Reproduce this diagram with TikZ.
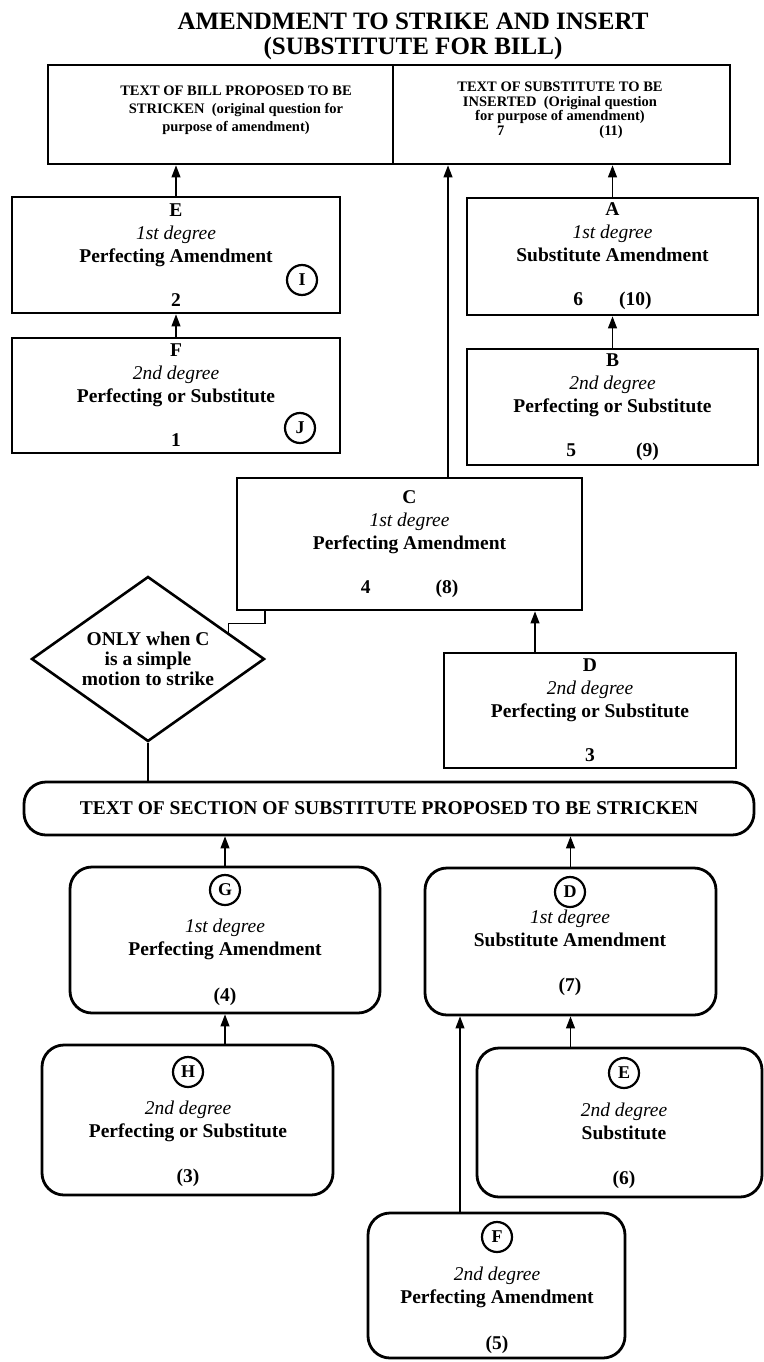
\documentclass[tikz,border=0pt]{standalone}
\usepackage{fontspec}
\setmainfont{Liberation Serif}
\usetikzlibrary{arrows.meta, shapes.geometric, calc}

\newcommand{\dgr}[1]{\textmd{\textit{#1}}}

\begin{document}
\begin{tikzpicture}[x=1pt, y=-1pt,
  box/.style 2 args={draw, line width=2.8pt, minimum width=#1, minimum height=#2,
    inner sep=0pt, align=center, font=\fontsize{19.5}{23}\selectfont\bfseries},
  rbox/.style 2 args={box={#1}{#2}, rounded corners=22pt},
  tag/.style={draw, circle, line width=2.2pt, minimum size=30pt, inner sep=0pt,
    font=\fontsize{18}{18}\selectfont\bfseries},
  txt/.style={align=center, inner sep=0pt, font=\fontsize{19.5}{23}\selectfont\bfseries},
  arr/.style={line width=1.1pt, -{Triangle[length=12pt,width=9pt]}},
  ln/.style={line width=1.1pt}]
  \useasboundingbox (0,0) rectangle (763,1362);

  % title
  \node[txt, font=\fontsize{25}{25}\selectfont\bfseries] (title) at (413,36)
    {AMENDMENT TO STRIKE AND INSERT\\(SUBSTITUTE FOR BILL)};

  % questions on top
  \node[box={345pt}{99pt}] (bill) at (220.5,114.5) {};
  \node[txt, font=\fontsize{14.5}{18}\selectfont\bfseries] (billtxt) at (236,110)
    {TEXT OF BILL PROPOSED TO BE\\ STRICKEN\ \ (original question for\\ purpose of amendment)};
  \node[box={337pt}{99pt}] (sub) at (561.5,114.5) {};
  \node[txt, font=\fontsize{14.5}{14.5}\selectfont\bfseries] (subtxt) at (560,110)
    {TEXT OF SUBSTITUTE TO BE\\ INSERTED\ \ (Original question\\ for purpose of amendment)\\ 7\hspace{95pt}(11)};

  % amendments to the bill and to the substitute
  \node[box={328pt}{116pt}] (E) at (176,255)
    {E\\ \dgr{1st degree}\\ Perfecting Amendment\\[21pt] 2};
  \node[box={328pt}{115pt}] (F) at (176,395.5)
    {F\\ \dgr{2nd degree}\\ Perfecting or Substitute\\[21pt] 1};
  \node[box={291pt}{117pt}] (A) at (612.5,256.5)
    {A\\ \dgr{1st degree}\\ Substitute Amendment\\[21pt] 6\hspace{36pt}(10)};
  \node[box={291pt}{116pt}] (B) at (612.5,407)
    {B\\ \dgr{2nd degree}\\ Perfecting or Substitute\\[21pt] 5\hspace{60pt}(9)};
  \node[box={345pt}{132pt}] (C) at (409.5,544)
    {C\\ \dgr{1st degree}\\ Perfecting Amendment\\[21pt] 4\hspace{65pt}(8)};
  \node[box={292pt}{115pt}] (D) at (590,710.5)
    {D\\ \dgr{2nd degree}\\ Perfecting or Substitute\\[21pt] 3};

  \node[draw, diamond, shape aspect=1.41, line width=2.6pt, minimum width=233pt,
    minimum height=165pt, inner sep=0pt, align=center,
    font=\fontsize{19.5}{20}\selectfont\bfseries] (dia) at (148,659)
    {ONLY when C\\ is a simple\\ motion to strike};

  % section of the substitute
  \node[rbox={730pt}{53pt}, rounded corners=22pt] (sect) at (389,808.5)
    {TEXT OF SECTION OF SUBSTITUTE PROPOSED TO BE STRICKEN};
  \node[rbox={310pt}{146pt}] (G) at (225,940) {};
  \node[txt] (txG) at (225,962.5) {\dgr{1st degree}\\ Perfecting Amendment\\[23pt] (4)};
  \node[rbox={291pt}{147pt}] (D2) at (570.5,941.5) {};
  \node[txt] (txD2) at (570,953) {\dgr{1st degree}\\ Substitute Amendment\\[22pt] (7)};
  \node[rbox={291pt}{150pt}] (H) at (187.5,1120) {};
  \node[txt] (txH) at (188,1143.5) {\dgr{2nd degree}\\ Perfecting or Substitute\\[22pt] (3)};
  \node[rbox={285pt}{149pt}] (E2) at (619.5,1122.5) {};
  \node[txt] (txE2) at (624,1146) {\dgr{2nd degree}\\ Substitute\\[22pt] (6)};
  \node[rbox={257pt}{145pt}] (F2) at (496.5,1285.5) {};
  \node[txt] (txF2) at (497,1310) {\dgr{2nd degree}\\ Perfecting Amendment\\[23pt] (5)};

  \foreach \n/\x/\y in {I/302/280, J/300/428, G/225/890, D/570/892, H/188/1072,
      E/624/1073, F/497/1237}
    \node[tag] (tg\n) at (\x,\y) {\n};

  % arrows
  \foreach \a/\b in {E/bill, A/sub, G/sect, D2/sect}
    \draw[arr] (\a.north) -- (\a.north |- \b.south);
  \foreach \a/\b in {F/E, B/A, H/G, E2/D2}
    \draw[arr] (\b.south |- \a.north) -- (\b.south);
  \draw[arr] ([xshift=38.5pt]C.north) -- ([xshift=38.5pt]C.north |- sub.south);
  \draw[arr] ([xshift=-55pt]D.north) -- ([xshift=-55pt]D.north |- C.south);
  \draw[arr] ([xshift=-36.5pt]F2.north) -- ([xshift=-36.5pt]F2.north |- D2.south);

  \coordinate (dtip) at ($(dia.north)!0.684!(dia.east)$);
  \draw[ln] ([xshift=-144.5pt]C.south) -- ++(0,12) -| (dtip);
  \draw[ln] (dia.south) -- (dia.south |- sect.north);
\end{tikzpicture}
\end{document}
